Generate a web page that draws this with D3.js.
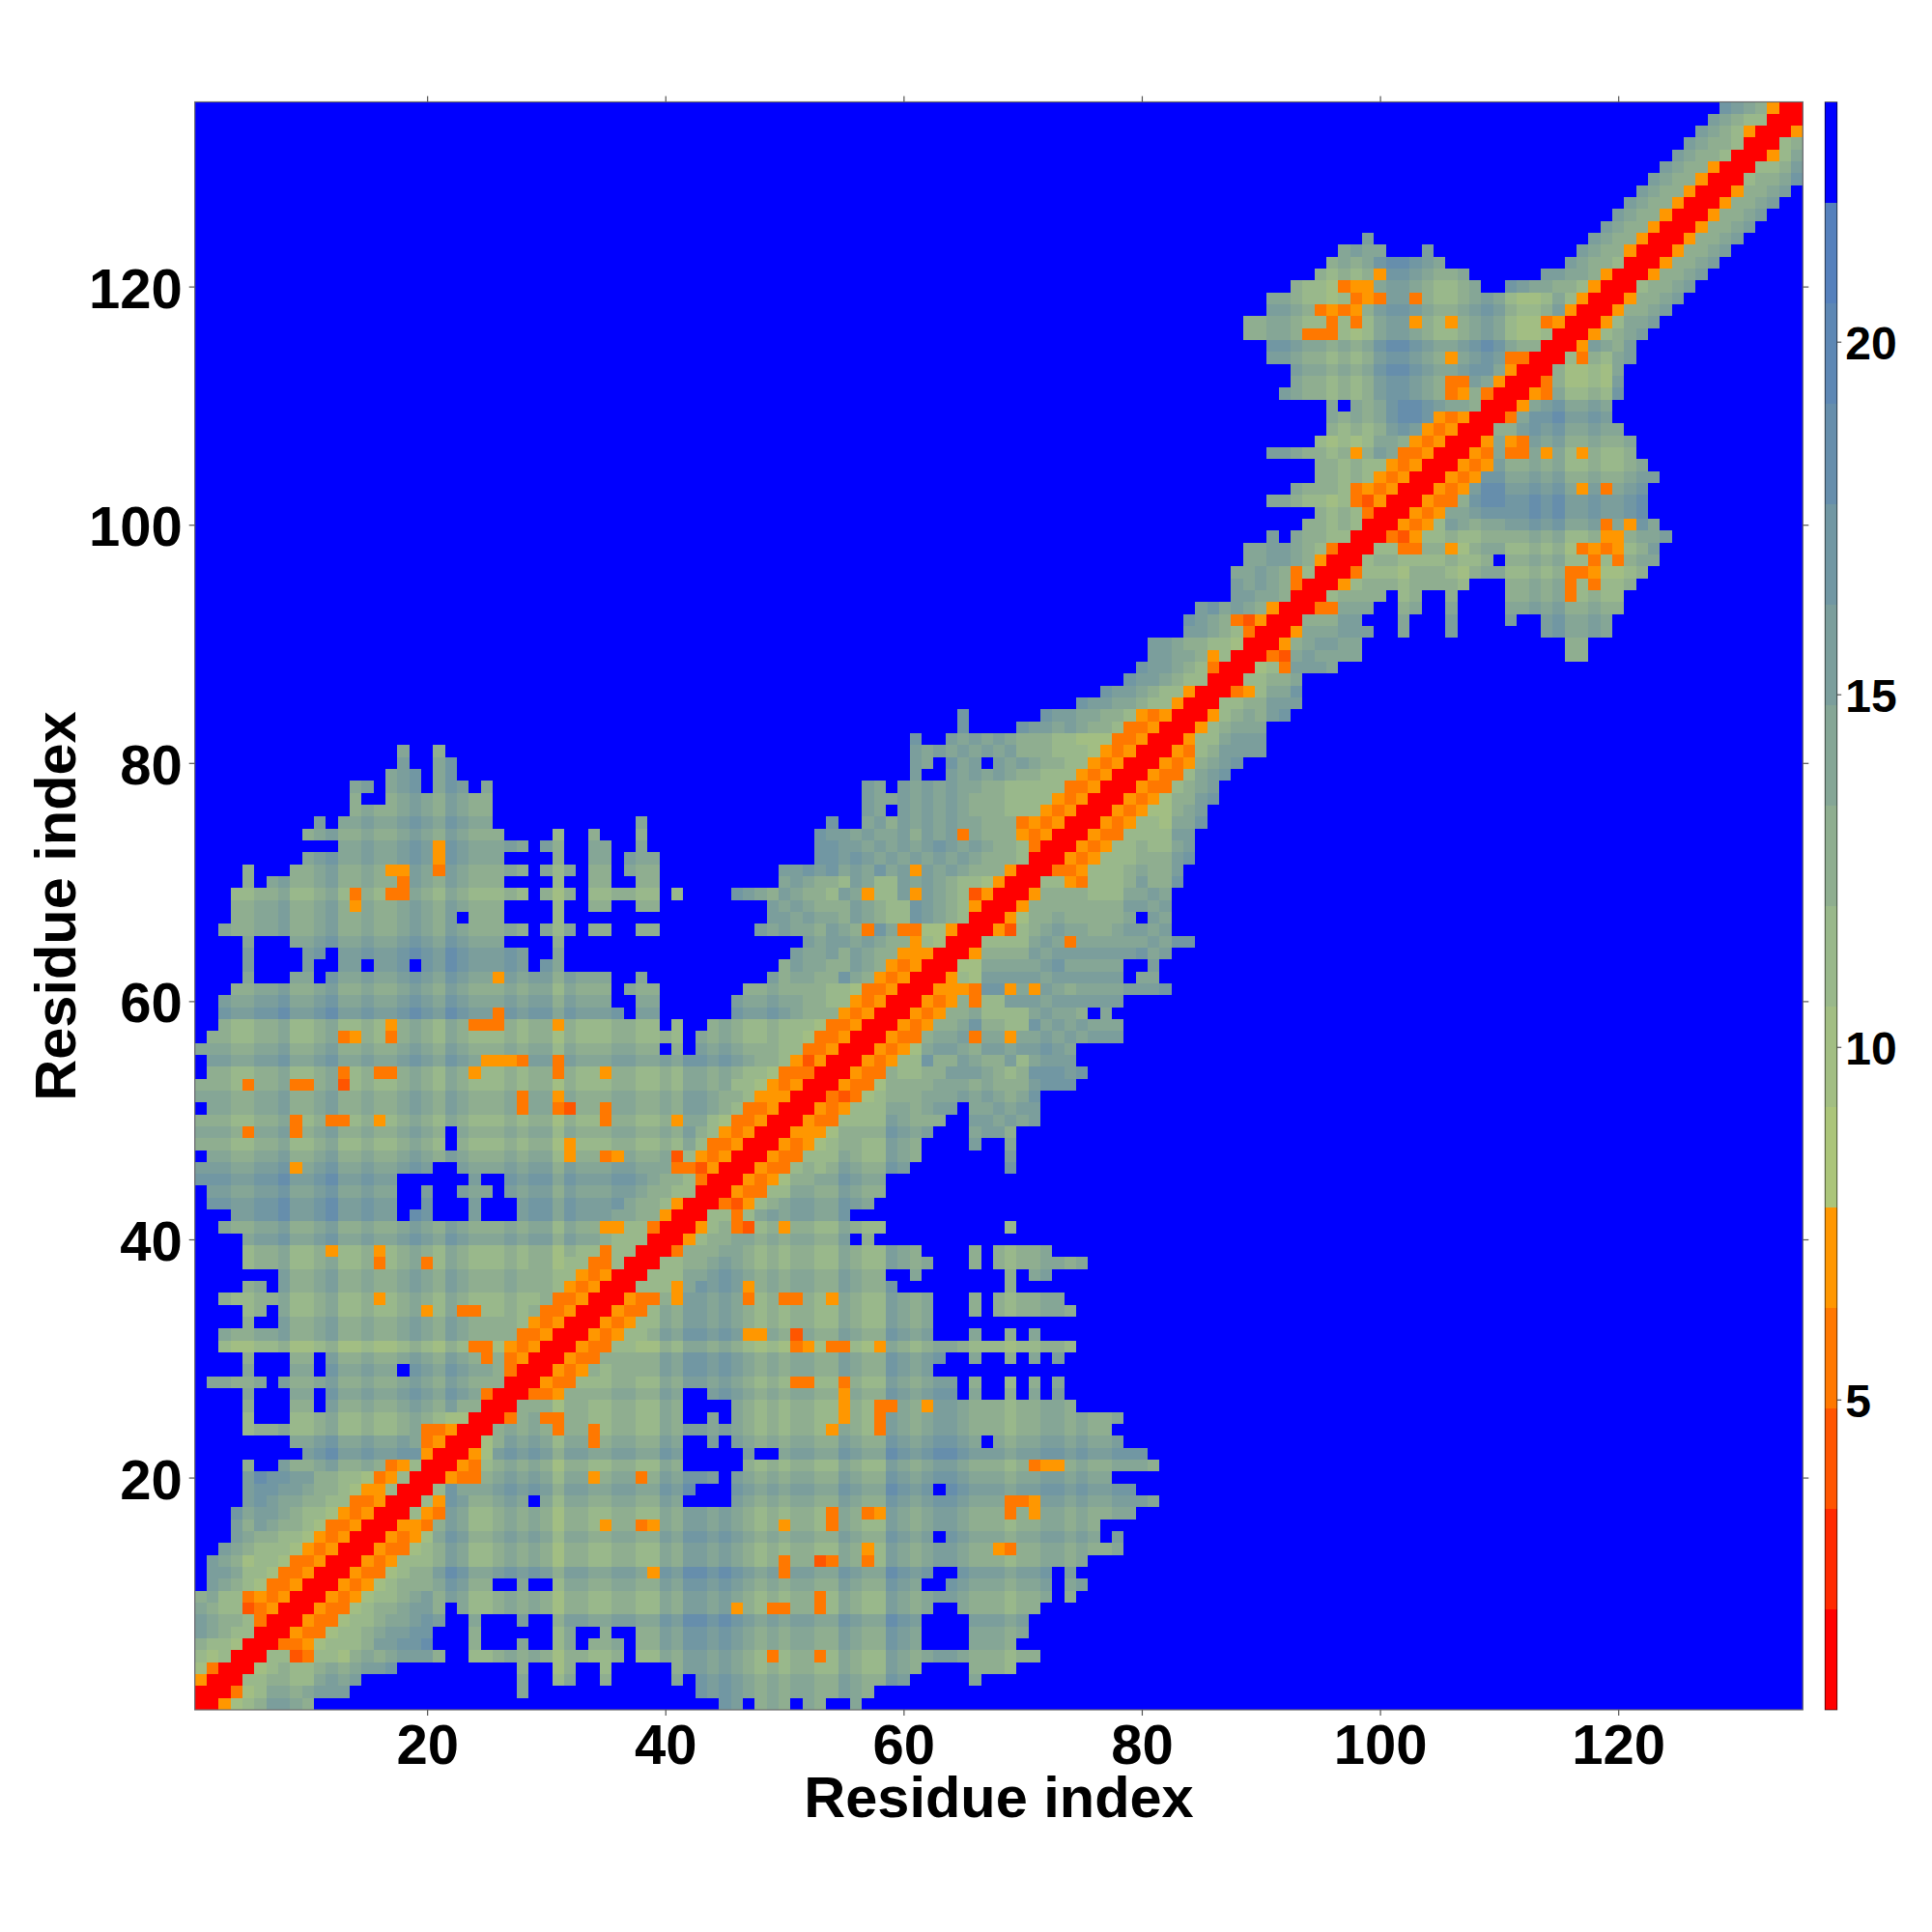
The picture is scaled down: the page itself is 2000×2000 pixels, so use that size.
<!DOCTYPE html>
<html><head><meta charset="utf-8"><title>Residue distance map</title>
<script src="https://cdn.jsdelivr.net/npm/d3@7/dist/d3.min.js"></script>
<style>html,body{margin:0;background:#fff}svg{display:block}text{font-family:"Liberation Sans",Arial,sans-serif;font-weight:bold;fill:#000}</style>
</head><body><div id="c"></div><script>
// Colour levels, red to blue; level index = one hex digit in the strings below
const levelColors=["#ff0000","#ff2a00","#ff5500","#ff7800","#ff9700","#abc57a","#a2be83","#99b88b","#8fae90","#85a696","#7b9e9c","#7197a3","#668eac","#5d87b4","#5580bc","#0000ff"];
const levelBreaks=[0.6,23.4];
const axisTicks=[20,40,60,80,100,120];
const colorbarTicks=[5,10,15,20];
const axisTitle="Residue index";
const residueCount=135;
// First non-blue residue of each row (row 1..135), only x<=row is listed; the map is symmetric
const rowStart=[1,1,1,1,1,1,1,1,1,1,2,2,2,3,4,4,4,5,5,5,5,10,9,5,5,5,5,2,5,5,3,3,5,5,3,5,8,5,5,5,3,4,2,2,1,1,2,1,1,1,2,1,1,2,2,1,2,3,3,3,4,5,5,5,5,3,4,4,4,5,5,10,13,10,11,14,14,14,17,18,18,61,65,65,75,77,79,80,81,81,84,84,85,88,88,88,89,89,91,94,95,91,93,95,95,91,95,96,96,96,92,93,93,91,91,89,89,91,91,93,95,96,97,99,119,120,121,122,123,124,125,126,127,128,129];
// Shade digits of each row, starting at rowStart (spaces only group the digits)
const rowShades=[
"","","","6","767","8776","a9877","a9887","9877","8977",
"a9876","aa9776","a986776","a987776","a988776","a8a98876","b9aa98776","aba998877","abbaa98876","acbbaa88776",
"8 99a88 9a889 8877 7","a bcaab aabb a9 87","99 ab99a 99a9 8877","7 88977 89778 77898 76","7 88977 89778 77898 7 6666","8 99a88 9a889 889a9 8a88 7","9 aab99 ab99a 99aba 9ba9 8","9988 99a88 9a889 889a9 8a988 87","9 aab99 ab99a 99aba 9ba99 87","8 99a88 9a889 889a9 8a988 87",
"766 77866 78667 66787 68766 67","988 99a88 9a889 889a9 8a988 8878 7","8 99a88 9a889 889a9 8a988 8878 7","7 88977 89778 77898 79877 7878 7","877 88977 89778 77898 79877 78778 7","8 99a88 9a889 889a9 8a988 89888 77","a88 9a889 889a9 8a988 89888 77 7","7 88977 89778 77898 79877 78788 6777","7 88977 89778 77898 79877 78788 68 777","9 aab99 ab99a 99aba 9ba99 9a9aa 8a9 987",
"988 99a88 9a889 889a9 8a988 89899 7988 8 77","aa bbcaa bcaab aabcb acbaa ababb 9baaa 99887","bbaa bbcaa bcaab aabcb acbaa ababb 9baaa b 98877","aa99 aab99 ab99a 99aba 9ba99 9a9aa 8a999 aa 9887","bbbaa bbcaa bcaab aabcb acbaa ababb 9baaa bba 9887","aaa99 aab99 ab99a 99aba 9ba99 9a9aa 8a999 aa99 9877","9988 99a88 9a889 889a9 8a988 89899 79888 99889 8 7777","88877 88977 89778 77898 79877 78788 68777 88778 79 77","99988 99a88 9a889 889a9 8a988 89899 79888 99889 8a 87766","88877 88977 89778 77898 79877 78788 68777 88778 799 7666",
"9988 99a88 9a889 889a9 8a988 89899 79888 99889 8aa 98776","99988 99a88 9a889 889a9 8a988 89899 79888 99889 8aa9 8877","88877 88977 89778 77898 79877 78788 68777 88778 79989 7766","8877 88977 89778 77898 79877 78788 68777 88778 79989 8 7766","aa99 aab99 ab99a 99aba 9ba99 9a9aa 8a999 aa99a 9bbab a9 8877","99988 99a88 9a889 889a9 8a988 89899 79888 99889 8aa9a 988 8776","8877 88977 89778 77898 79877 78788 68777 88778 79989 8778 7766","877 88977 89778 77898 79877 78788 68777 88778 79989 87787 7766","baa bbcaa bcaab aabcb acbaa ababb 9baaa bbaab accbc baaba 9888","a99 aab99 ab99a 99aba 9ba99 9a9aa 8a999 aa99a 9bbab a99a9 9 8877",
"88 99a88 9a889 889a9 8a988 89899 79888 99889 8aa9a 98898 88 8776","9 aab99 ab99a 99aba 9ba99 9a9aa 8a999 aa9","a bbcaa bcaab aabcb acbaa ababb 9","a bbcaa bcaab aabcb acbaa ababb 9","9 aab99 ab99a 99aba 9ba99 9a9aa 8","988 99a88 9a889 889a9 8a988 89899 79888 9988","88 99a88 9a889 889a9 8a988 89899 7","88 99a88 9a889 889a9 8a988 89899 79888 9988","77 88977 89778 77898 79877 78788 68777 88778 7","8 99a88 9a889 889a9 8a988 89899 79888 9988",
"8 99a88 9a889 889a9 8a988 89899 79888 9988","9 ab99a 99aba 9ba99 9a9aa 8a999 aa99","99a 99aba 9ba99 9a9aa 8a999 aa9","8 9a889 889a9 8a988 89899 79888 9988","ab99a 99aba 9ba99 9a9aa 8a999 aa9","89 889a9 8a988 8","89 889a9 8a988 8","9a 99aba 9ba99 9","9aba 9ba99","aba 9ba99",
"9a9 8a9","bbba9a9a98887766","b","b","baa998776","baa987766","baa9877","baa98776","aa998776","aa9887766",
"aa9877","ba98776","ab9a987877","aa998777","a9a98777","99a98776","99aa987767","99aa987766","aa98877876","8878777",
"878777 6","9987 7676 7766","9888 78 7 87766","887878776","88787 7 8 7 6 6","aa988787 8a9 8 7 7 6","7676 7 9 9 8 7 7 6 6 6","8787 8ab a 9 8 8 7 7 7 6","9898 9bccb a 9 8 8 7 7 6","9898 9bccba 9 9 8 8 7 7 6",
"a988787 8abba98 89 8 7 7 6","988787 8abba9889a 98776","a99898 9bccba99ab b 9 8 8 7 7 6","aa988787 8abba9889a ba8 8 7 7 7 6","bba99898 9bccba99ab cb9889 8 7 7 6","8899877676 79aa987789 a97667 9766","8899877676 79aa987789 a97667 9766","aa988787 8abba9889a ba8778a87 7","99877676 79aa987789 a976679766","877676 79aa987789 a976679766 77",
"8787 8abba9889a ba8778a877 8","898 9bccba99ab cb9889b988 99","9a99 aaaa","a","a98877","a98877","a98877","a98877","a98877","a98877","a98877","a98877","a98777","a9877","ba987"
].map(s=>s.replace(/ /g,""));
// Right-hand pieces of rows that are split by a wide blue area: [row, from, shades]
const rowPieces=[[62,49,"a89988b98877"],[63,50,"8a9988a98877"],[64,51,"a99a8a988877"],[65,52,"a9aa9a988776"],[66,48,"a9a998a987b98887"],[67,49,"aa9a998a9877ba9877"],[68,49,"a9a9888a9877ba98777"],[69,46,"ba98a9887a9877a9a98777"],[70,50,"9a9887a977a9a98776"],[71,50,"aabab9a9b9a9a9a988877"],[72,53,"bbaba9a9a9a9a98887777"],[73,53,"bbaa9a9a9aba9a9887777"],[74,53,"baa9a99a8a9a998887776"],[75,54,"b"],[75,57,"9a8a9a9a9988877767"],[76,57,"a99a9a9a9888777767"],[77,57,"a99a9a9a98887777667"],[78,57,"a9ba9a9a99887777766"],[79,61,"a99a9a9a988777766"],[80,61,"a9bb9a9a9a9887766"],[81,61,"a9a9a9a9a88877766"],[83,70,"baa9a98877766"],[84,72,"baa99887776666"],[120,111,"ba998877"],[121,114,"aa99887"],[122,116,"a98877"],[123,117,"a9887"],[124,118,"a9887"]];
// Residues to the left of and on the diagonal in each row; the last digit sits at x=row
const rowBand=[
"0","00","400","300","00","00","00","300","23400","343400",
"33400","33400","33400","43400","43400","33400","43400","33400","44700","34700",
"34700","400","3400","33400","00","00","300","00","300","3400",
"43400","33400","43400","33400","33400","43400","43400","33700","00","00",
"300","400","400","00","300","332400","43400","33400","43400","33400",
"33400","44400","43400","33300","42400","33400","33400","33400","43400","43400",
"33400","43400","43400","44400","47600","3366400","00","400","2400","400",
"400","00","300","43400","343400","43400","43400","33400","43400","43400",
"43400","33400","33400","43400","400","400","00","300","4700","00",
"300","32400","400","00","300","3700","400","300","00","00",
"300","32400","343400","43400","43400","33400","43400","43400","43400","00",
"300","400","400","3300","00","00","3400","400","400","400",
"400","00","400","400","400","400","400","400","400","400","00","00","400","00","400"
];
// Blue holes inside a row: [row, from, to]
const gaps=[[21,6,7],[25,6,8],[26,6,8],[26,11,11],[27,6,8],[27,11,11],[28,7,7],[29,6,8],[29,11,11],[29,18,18],[30,6,8],[30,11,11],[33,6,7],[34,7,7],[36,7,7],
[42,18,18],[42,21,23],[42,25,27],[43,18,19],[43,21,23],[43,25,27],[44,18,19],[44,21,22],[44,26,26],[45,18,23],[45,25,26],[46,21,22],[48,22,22],[49,22,22],
[56,40,40],[56,42,42],[57,42,42],[58,40,40],[58,42,43],[59,37,37],[59,40,45],[60,36,37],[60,40,45],[61,36,36],[61,40,46],
[62,6,8],[62,11,11],[62,36,37],[62,39,48],[63,6,9],[63,11,12],[63,15,15],[63,19,19],[63,29,29],[63,32,49],[64,6,9],[64,12,12],[64,29,30],[64,32,50],
[65,6,8],[65,27,30],[65,32,51],[66,29,29],[66,33,33],[66,36,37],[66,40,47],[67,23,23],[67,27,30],[67,32,48],[68,27,30],[68,32,33],[68,36,37],[68,40,48],
[69,29,29],[69,33,33],[69,40,40],[69,42,45],[70,6,6],[70,27,30],[70,32,33],[70,36,37],[70,40,49],[71,6,8],[71,29,29],[71,33,33],[71,36,36],[71,40,49],
[72,27,30],[72,32,33],[72,36,36],[72,40,52],[73,29,29],[73,32,33],[73,36,37],[73,39,52],[74,27,30],[74,32,33],[74,35,37],[74,39,52],
[75,12,12],[75,26,37],[75,39,53],[75,55,56],[76,26,56],[76,59,59],[77,15,16],[77,26,56],[78,16,16],[78,20,20],[78,24,24],[78,26,56],[78,59,59],
[79,20,20],[79,23,60],[79,62,63],[80,19,20],[80,23,60],[80,63,63],[80,67,67],[81,19,20],[81,22,60],[82,62,63],[83,66,69],[84,66,71],
[99,92,92],[110,97,97],[120,109,110],[121,108,113],[122,106,115],[123,101,103],[123,105,116],[124,100,117]];
// Isolated close contacts: [row, residue, level]
const spots=[[30,25,3],[31,24,3],[31,25,3],[34,20,4],[34,23,3],[34,24,3],[35,16,4],[38,16,3],[38,20,3],[39,12,4],[39,16,4],[39,35,3],[41,35,4],[41,36,4],[46,9,4],[47,32,4],[47,35,3],[47,36,4],[47,41,2],[48,32,4],[49,5,3],[49,9,3],[50,9,3],[50,12,3],[50,13,3],[50,16,4],[50,35,3],[50,41,4],[51,28,3],[51,31,3],[51,32,2],[51,35,3],[52,28,3],[52,31,4],[53,5,3],[53,9,3],[53,10,3],[53,13,2],[54,13,3],[54,16,3],[54,17,3],[54,24,4],[54,31,3],[54,35,4],[55,25,4],[55,26,4],[55,27,4],[55,28,3],[55,31,3],[57,13,3],[57,14,4],[57,17,3],[58,17,4],[58,24,3],[58,25,3],[58,26,3],[58,31,4],[59,26,3],[62,26,4],[66,57,3],[68,14,4],[69,14,3],[69,17,3],[69,18,3],[69,57,4],[69,61,4],[70,18,3],[71,17,4],[71,18,4],[71,21,3],[71,61,4],[72,21,4],[73,21,4],[74,65,3],[106,98,4],[111,106,3],[111,107,4],[112,106,3],[112,107,3],[114,106,4],[116,94,3],[116,95,3],[116,96,3],[117,96,3],[117,98,3],[117,103,4],[117,106,4],[118,95,3],[118,96,4],[118,97,3],[118,98,4],[119,98,3],[119,99,4],[119,100,3],[119,103,3],[120,97,3],[120,98,4],[120,99,4],[121,100,4]];

const W=2000,H=2000,plotLeft=201.7,plotRight=1866.3,plotTop=105.5,plotBottom=1770;
const cbLeft=1889.3,cbRight=1901.7;
const x=d3.scaleLinear().domain([0.5,residueCount+0.5]).range([plotLeft,plotRight]);
const y=d3.scaleLinear().domain([0.5,residueCount+0.5]).range([plotBottom,plotTop]);
const cbY=d3.scaleLinear().domain(levelBreaks).range([plotBottom,plotTop]);
const levelWidth=(levelBreaks[1]-levelBreaks[0])/levelColors.length;

// assemble the symmetric matrix of levels from the arrays above
const M=d3.range(residueCount).map(()=>new Array(residueCount).fill(15));
rowShades.forEach((s,i)=>{
  const r=i+1,st=rowStart[i];
  for(let c=st;c<=r;c++){const ch=s[c-st]||s[s.length-1]||"f";M[i][c-1]=parseInt(ch,16);}
});
rowPieces.forEach(([r,a,s])=>{for(let c=a;c<=r;c++){M[r-1][c-1]=parseInt(s[c-a]||s[s.length-1],16);}});
gaps.forEach(([r,a,b])=>{for(let c=a;c<=b;c++)M[r-1][c-1]=15;});
spots.forEach(([r,c,l])=>{M[r-1][c-1]=l;});
rowBand.forEach((s,i)=>{const r=i+1;for(let k=0;k<s.length;k++){const c=r-s.length+1+k;if(c>=1)M[i][c-1]=parseInt(s[k],16);}});
const cells=[];
for(let i=0;i<residueCount;i++)for(let j=0;j<=i;j++){
  const v=M[i][j];if(v===15)continue;
  cells.push({r:i+1,c:j+1,v});if(i!==j)cells.push({r:j+1,c:i+1,v});
}

const svg=d3.select("#c").append("svg").attr("width",W).attr("height",H).attr("viewBox",`0 0 ${W} ${H}`);
svg.append("rect").attr("x",plotLeft).attr("y",plotTop).attr("width",plotRight-plotLeft).attr("height",plotBottom-plotTop).attr("fill",levelColors[15]);
svg.append("g").attr("shape-rendering","crispEdges").selectAll("rect").data(cells).join("rect")
  .attr("x",d=>x(d.c-0.5)).attr("y",d=>y(d.r+0.5))
  .attr("width",d=>x(d.c+0.5)-x(d.c-0.5)).attr("height",d=>y(d.r-0.5)-y(d.r+0.5))
  .attr("fill",d=>levelColors[d.v]);
svg.append("rect").attr("x",plotLeft).attr("y",plotTop).attr("width",plotRight-plotLeft).attr("height",plotBottom-plotTop).attr("fill","none").attr("stroke","#6a6a6a").attr("stroke-width",1.2);

const styleAxis=g=>{g.select(".domain").remove();g.selectAll("line").attr("stroke","#555").attr("stroke-width",1.2);};
const styleText=g=>g.selectAll("text").attr("font-family",'"Liberation Sans"').attr("font-weight","bold").attr("fill","#000");
svg.append("g").attr("transform",`translate(0,${plotBottom})`).call(d3.axisBottom(x).tickValues(axisTicks).tickSize(6).tickPadding(9)).call(styleAxis).call(styleText)
  .selectAll("text").attr("font-size",58);
svg.append("g").attr("transform",`translate(${plotLeft},0)`).call(d3.axisLeft(y).tickValues(axisTicks).tickSize(6).tickPadding(7)).call(styleAxis).call(styleText)
  .selectAll("text").attr("font-size",58).attr("dy","0.37em");
svg.append("g").attr("transform",`translate(0,${plotTop})`).call(d3.axisTop(x).tickValues(axisTicks).tickSize(6).tickFormat("")).call(styleAxis);
svg.append("g").attr("transform",`translate(${plotRight},0)`).call(d3.axisRight(y).tickValues(axisTicks).tickSize(6).tickFormat("")).call(styleAxis);

svg.append("text").attr("x",1034).attr("y",1881).attr("text-anchor","middle").attr("font-size",59.5).text(axisTitle);
svg.append("text").attr("transform","translate(78,938) rotate(-90)").attr("text-anchor","middle").attr("font-size",59.5).text(axisTitle);

// colour bar
svg.append("g").attr("shape-rendering","crispEdges").selectAll("rect").data(levelColors).join("rect")
  .attr("x",cbLeft).attr("width",cbRight-cbLeft)
  .attr("y",(d,i)=>cbY(levelBreaks[0]+(i+1)*levelWidth))
  .attr("height",(d,i)=>cbY(levelBreaks[0]+i*levelWidth)-cbY(levelBreaks[0]+(i+1)*levelWidth))
  .attr("fill",d=>d);
svg.append("rect").attr("x",cbLeft).attr("y",plotTop).attr("width",cbRight-cbLeft).attr("height",plotBottom-plotTop).attr("fill","none").attr("stroke","#000").attr("stroke-opacity",0.6).attr("stroke-width",1);
svg.append("g").attr("transform",`translate(${cbRight},0)`).call(d3.axisRight(cbY).tickValues(colorbarTicks).tickSize(4.5).tickPadding(4)).call(styleAxis).call(styleText)
  .selectAll("text").attr("font-size",48).attr("dy","0.37em");
</script></body></html>
